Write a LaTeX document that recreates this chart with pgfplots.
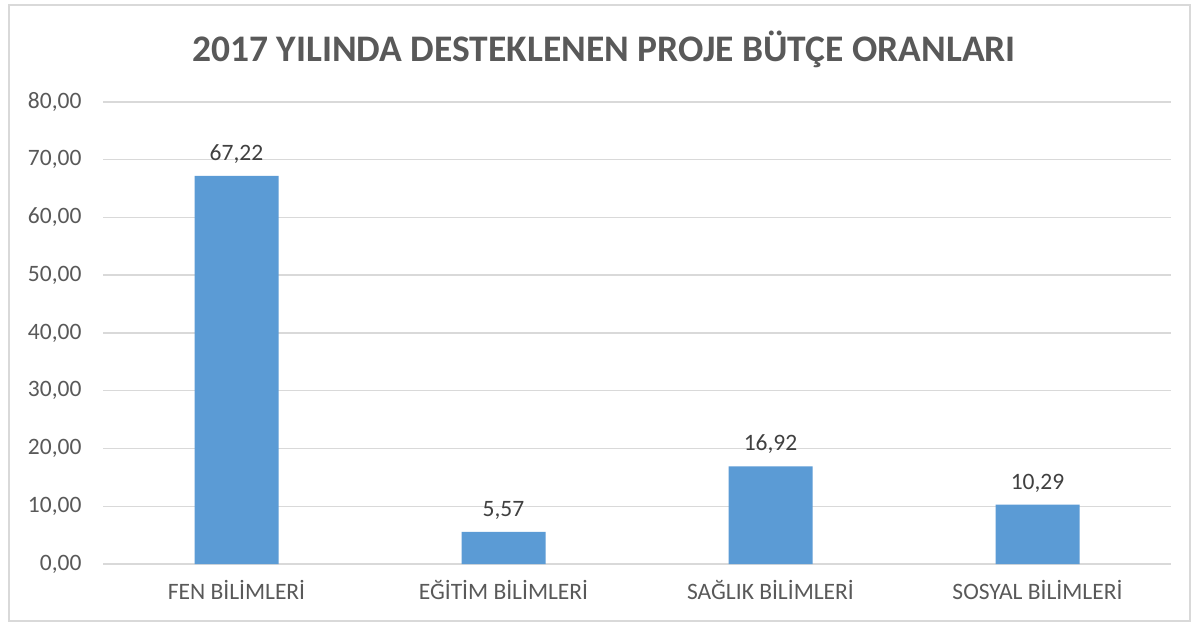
\documentclass[border=0pt]{standalone}
\usepackage{pgfplots}
\pgfplotsset{compat=1.18}
\usepackage{fontspec}
\setmainfont{Carlito}
\definecolor{barblue}{HTML}{5B9BD5}
\definecolor{gridgray}{HTML}{D9D9D9}
\definecolor{txtgray}{HTML}{595959}
\definecolor{lblgray}{HTML}{404040}
\begin{document}
\begin{tikzpicture}
\fill[white] (0pt,0pt) rectangle (1198pt,626pt);
\draw[gridgray, line width=1.2pt] (9pt,5pt) rectangle (1190pt,621pt);
\node[font=\fontsize{37.5}{42}\selectfont\bfseries, text=txtgray] at (604pt,577pt) {2017 YILINDA DESTEKLENEN PROJE BÜTÇE ORANLARI};
\begin{axis}[
  at={(103pt,62pt)}, anchor=south west,
  scale only axis, width=1068pt, height=462pt,
  xmin=-0.5, xmax=3.5, ymin=0, ymax=80,
  ytick={0,10,...,80},
  xtick={0,1,2,3},
  xticklabels={FEN BİLİMLERİ, EĞİTİM BİLİMLERİ, SAĞLIK BİLİMLERİ, SOSYAL BİLİMLERİ},
  ymajorgrids, grid style={gridgray, line width=1.5pt},
  axis line style={draw=none},
  axis x line*=bottom, axis y line*=left,
  x axis line style={draw=gridgray, line width=1.5pt},
  y axis line style={draw=none},
  major tick length=0pt,
  tick label style={font=\fontsize{23.5}{27}\selectfont, text=txtgray},
  xticklabel style={yshift=-13pt},
  yticklabel style={xshift=-18pt},
  /pgf/number format/assume math mode=true,
  yticklabel={\pgfmathprintnumber[fixed, fixed zerofill, precision=2, use comma]{\tick}},
  ybar, bar width=84pt,
  nodes near coords={\pgfmathprintnumber[fixed, fixed zerofill, precision=2, use comma]{\pgfplotspointmeta}},
  nodes near coords style={font=\fontsize{23.5}{27}\selectfont, text=lblgray, yshift=9pt},
]
\addplot[fill=barblue, draw=none] coordinates {(0,67.22) (1,5.57) (2,16.92) (3,10.29)};
\end{axis}
\end{tikzpicture}
\end{document}
